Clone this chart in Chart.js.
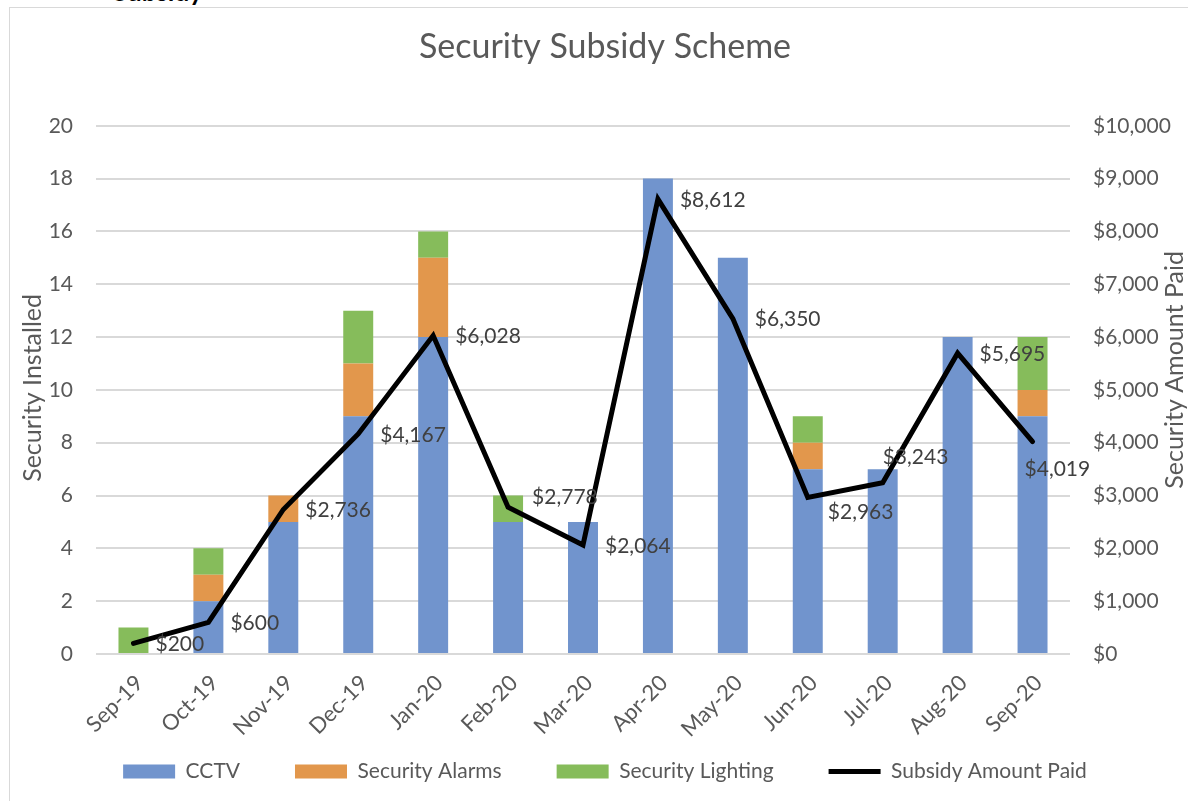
<!DOCTYPE html>
<html>
<head>
<meta charset="utf-8">
<script src="https://cdn.jsdelivr.net/npm/chart.js@4.4.1/dist/chart.umd.min.js"></script>
<style>
  html, body { margin: 0; padding: 0; background: #fff; overflow: hidden; width: 1188px; height: 801px; }
  #head { position: absolute; left: 113px; top: -22px; font: bold 26px Lato, sans-serif; line-height: 26px; color: #000; }
  #wrap { position: absolute; left: 9px; top: 7px; border: 1px solid #d9d9d9; width: 1190px; height: 840px; }
  canvas { display: block; }
</style>
</head>
<body>
<div id="head">Subsidy</div>
<div id="wrap"><canvas id="grafico" width="1190" height="784"></canvas></div>
<script>
const meses = ['Sep-19', 'Oct-19', 'Nov-19', 'Dec-19', 'Jan-20', 'Feb-20', 'Mar-20', 'Apr-20', 'May-20', 'Jun-20', 'Jul-20', 'Aug-20', 'Sep-20'];
const cctv = [0, 2, 5, 9, 12, 5, 5, 18, 15, 7, 7, 12, 9];
const alarmas = [0, 1, 1, 2, 3, 0, 0, 0, 0, 1, 0, 0, 1];
const iluminacion = [1, 1, 0, 2, 1, 1, 0, 0, 0, 1, 0, 0, 2];
const subsidio = [200, 600, 2736, 4167, 6028, 2778, 2064, 8612, 6350, 2963, 3243, 5695, 4019];

const colores = { cctv: '#7194cd', alarmas: '#e2974c', luz: '#86bc5b', linea: '#000000' };
const gris = '#595959';
const fuente = 'Lato, "Open Sans", sans-serif';

// etiquetas movidas a mano en el original (dx desde el punto, dy al centro)
const ajusteEtiquetas = { 5: [24, -10], 9: [20, 15], 10: [0, -25], 12: [-8, 28] };

const etiquetasPlugin = {
  id: 'etiquetas',
  afterDatasetsDraw(chart) {
    const ctx = chart.ctx;
    const meta = chart.getDatasetMeta(3);
    ctx.save();
    ctx.font = '21px ' + fuente;
    ctx.fillStyle = '#404040';
    ctx.textAlign = 'left';
    ctx.textBaseline = 'middle';
    meta.data.forEach((p, i) => {
      const [dx, dy] = ajusteEtiquetas[i] || [22, 1];
      ctx.fillText('$' + subsidio[i].toLocaleString('en-US'), p.x + dx, p.y + dy);
    });
    ctx.restore();
  },
  afterDraw(chart) {
    const ctx = chart.ctx, a = chart.chartArea;
    const cy = (a.top + a.bottom) / 2;
    const titulo = (texto, x, y) => {
      ctx.save();
      ctx.font = '25px ' + fuente;
      ctx.fillStyle = gris;
      ctx.textAlign = 'center';
      ctx.textBaseline = 'middle';
      ctx.translate(x, y);
      ctx.rotate(-Math.PI / 2);
      ctx.fillText(texto, 0, 0);
      ctx.restore();
    };
    titulo('Security Installed', a.left - 63, cy - 2);
    titulo('Security Amount Paid', a.right + 105, cy - 20);
  }
};

function barra(label, data, color) {
  return { type: 'bar', label, data, backgroundColor: color, borderWidth: 0, yAxisID: 'y', order: 1, barPercentage: 0.4, categoryPercentage: 1 };
}

new Chart(document.getElementById('grafico'), {
  data: {
    labels: meses,
    datasets: [
      barra('CCTV', cctv, colores.cctv),
      barra('Security Alarms', alarmas, colores.alarmas),
      barra('Security Lighting', iluminacion, colores.luz),
      { type: 'line', label: 'Subsidy Amount Paid', data: subsidio, borderColor: colores.linea, backgroundColor: colores.linea,
        borderWidth: 5, pointRadius: 0, tension: 0, borderCapStyle: 'round', yAxisID: 'y1', order: 0 }
    ]
  },
  options: {
    responsive: false,
    animation: false,
    layout: { padding: 0 },
    plugins: {
      tooltip: { enabled: false },
      title: {
        display: true, text: 'Security Subsidy Scheme', color: gris,
        font: { family: fuente, size: 34, weight: 'normal' },
        padding: { top: 19, bottom: 58 }
      },
      legend: {
        position: 'bottom',
        labels: {
          color: gris, padding: 55, usePointStyle: true, pointStyleWidth: 52, boxHeight: 14,
          font: { family: fuente, size: 21 },
          generateLabels: () => [
            { text: 'CCTV', fillStyle: colores.cctv, strokeStyle: colores.cctv, lineWidth: 0, pointStyle: 'rect', fontColor: gris, datasetIndex: 0 },
            { text: 'Security Alarms', fillStyle: colores.alarmas, strokeStyle: colores.alarmas, lineWidth: 0, pointStyle: 'rect', fontColor: gris, datasetIndex: 1 },
            { text: 'Security Lighting', fillStyle: colores.luz, strokeStyle: colores.luz, lineWidth: 0, pointStyle: 'rect', fontColor: gris, datasetIndex: 2 },
            { text: 'Subsidy Amount Paid', fillStyle: colores.linea, strokeStyle: colores.linea, lineWidth: 5, pointStyle: 'line', fontColor: gris, datasetIndex: 3 }
          ]
        }
      }
    },
    scales: {
      x: {
        stacked: true,
        grid: { display: false },
        border: { display: false },
        ticks: { color: gris, font: { family: fuente, size: 22 }, minRotation: 45, maxRotation: 45, padding: 8, labelOffset: 6 },
        afterFit: s => {
          s.height = 52;
          // las etiquetas giradas pasan por debajo del eje; sin recorte
          s._computeLabelArea = () => undefined;
        }
      },
      y: {
        stacked: true, position: 'left', min: 0, max: 20,
        grid: { color: '#d9d9d9', lineWidth: 2, drawTicks: false },
        border: { display: false },
        ticks: { stepSize: 2, color: gris, font: { family: fuente, size: 21 }, padding: 23 },
        afterFit: s => { s.width = 86; }
      },
      y1: {
        position: 'right', min: 0, max: 10000,
        grid: { display: false, drawTicks: false },
        border: { display: false },
        ticks: { stepSize: 1000, color: gris, font: { family: fuente, size: 21 }, padding: 23,
          callback: v => '$' + v.toLocaleString('en-US') },
        afterFit: s => { s.width = 130; }
      }
    }
  },
  plugins: [etiquetasPlugin]
});
</script>
</body>
</html>
